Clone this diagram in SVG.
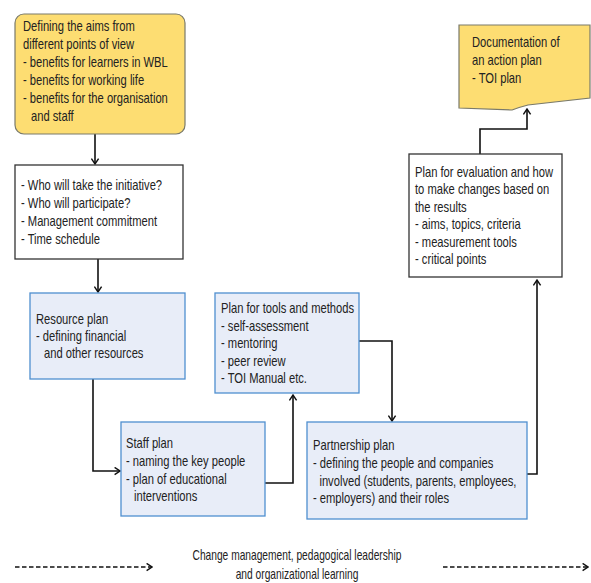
<svg xmlns="http://www.w3.org/2000/svg" width="591" height="583" viewBox="0 0 591 583">
<style>
.t{font-family:"Liberation Sans",Arial,sans-serif;font-size:14px;fill:#222}
.yel{fill:#fddd72;stroke:#7a7a6a;stroke-width:1.2}
.wht{fill:#fff;stroke:#333;stroke-width:1.3}
.blu{fill:#e8edf8;stroke:#4f8fcf;stroke-width:1.3}
.con{fill:none;stroke:#111;stroke-width:1.6}
.dash{fill:none;stroke:#111;stroke-width:1.5;stroke-dasharray:4.5 2.5}
</style>
<defs>
<marker id="ah" viewBox="0 0 10 10" refX="9" refY="5" markerWidth="9" markerHeight="9" markerUnits="userSpaceOnUse" orient="auto">
<path d="M3,1 L9,5 L3,9" fill="none" stroke="#111" stroke-width="1.6"/>
</marker>
</defs>
<rect width="591" height="583" fill="#fff"/>
<g id="connectors">
<path class="con" d="M95,134 V164" marker-end="url(#ah)"/>
<path class="con" d="M98,259 V292" marker-end="url(#ah)"/>
<path class="con" d="M93,379 V471 H120" marker-end="url(#ah)"/>
<path class="con" d="M265,483 H293 V395" marker-end="url(#ah)"/>
<path class="con" d="M359,341 H392 V421" marker-end="url(#ah)"/>
<path class="con" d="M527,474 H537 V280" marker-end="url(#ah)"/>
<path class="con" d="M480,154 V129 H527 V109" marker-end="url(#ah)"/>
<path class="dash" d="M15,567 H152" marker-end="url(#ah)"/>
<path class="dash" d="M443,567 H588" marker-end="url(#ah)"/>
</g>
<g id="aims">
<rect class="yel" x="15" y="14" width="170" height="120" rx="9"/>
<g transform="translate(23,0) scale(0.8 1)">
<text class="t" x="0" y="31">Defining the aims from</text>
<text class="t" x="0" y="49">different points of view</text>
<text class="t" x="0" y="67">- benefits for learners in WBL</text>
<text class="t" x="0" y="85">- benefits for working life</text>
<text class="t" x="0" y="103">- benefits for the organisation</text>
<text class="t" x="10" y="121">and staff</text>
</g>
</g>
<g id="initiative">
<rect class="wht" x="15" y="165" width="168" height="94"/>
<g transform="translate(21,0) scale(0.8 1)">
<text class="t" x="0" y="190">- Who will take the initiative?</text>
<text class="t" x="0" y="208">- Who will participate?</text>
<text class="t" x="0" y="226">- Management commitment</text>
<text class="t" x="0" y="244">- Time schedule</text>
</g>
</g>
<g id="resource">
<rect class="blu" x="30" y="293" width="155" height="86"/>
<g transform="translate(36,0) scale(0.8 1)">
<text class="t" x="0" y="324">Resource plan</text>
<text class="t" x="0" y="341">- defining financial</text>
<text class="t" x="10" y="358">and other resources</text>
</g>
</g>
<g id="staff">
<rect class="blu" x="121" y="422" width="144" height="94"/>
<g transform="translate(126,0) scale(0.8 1)">
<text class="t" x="0" y="448">Staff plan</text>
<text class="t" x="0" y="466">- naming the key people</text>
<text class="t" x="0" y="484">- plan of educational</text>
<text class="t" x="10" y="501">interventions</text>
</g>
</g>
<g id="tools">
<rect class="blu" x="215" y="293" width="144" height="100"/>
<g transform="translate(221,0) scale(0.8 1)">
<text class="t" x="0" y="313">Plan for tools and methods</text>
<text class="t" x="0" y="331">- self-assessment</text>
<text class="t" x="0" y="348">- mentoring</text>
<text class="t" x="0" y="366">- peer review</text>
<text class="t" x="0" y="383">- TOI Manual etc.</text>
</g>
</g>
<g id="partnership">
<rect class="blu" x="307" y="422" width="220" height="97"/>
<g transform="translate(313,0) scale(0.8 1)">
<text class="t" x="0" y="450">Partnership plan</text>
<text class="t" x="0" y="468">- defining the people and companies</text>
<text class="t" x="8" y="486">involved (students, parents, employees,</text>
<text class="t" x="0" y="503">- employers) and their roles</text>
</g>
</g>
<g id="evaluation">
<rect class="wht" x="409" y="154" width="153" height="123"/>
<g transform="translate(415,0) scale(0.8 1)">
<text class="t" x="0" y="177">Plan for evaluation and how</text>
<text class="t" x="0" y="194.5">to make changes based on</text>
<text class="t" x="0" y="212">the results</text>
<text class="t" x="0" y="229.5">- aims, topics, criteria</text>
<text class="t" x="0" y="247">- measurement tools</text>
<text class="t" x="0" y="264.5">- critical points</text>
</g>
</g>
<g id="documentation">
<path class="yel" d="M459,25 H590 V98 L528,105 Q520,107 512,110 L459,108 Z"/>
<g transform="translate(472,0) scale(0.8 1)">
<text class="t" x="0" y="47">Documentation of</text>
<text class="t" x="0" y="65">an action plan</text>
<text class="t" x="0" y="83">- TOI plan</text>
</g>
</g>
<g id="footer">
<g transform="translate(297,0) scale(0.73 1)">
<text class="t" x="0" y="560" text-anchor="middle">Change management, pedagogical leadership</text>
<text class="t" x="0" y="579" text-anchor="middle">and organizational learning</text>
</g>
</g>
</svg>
